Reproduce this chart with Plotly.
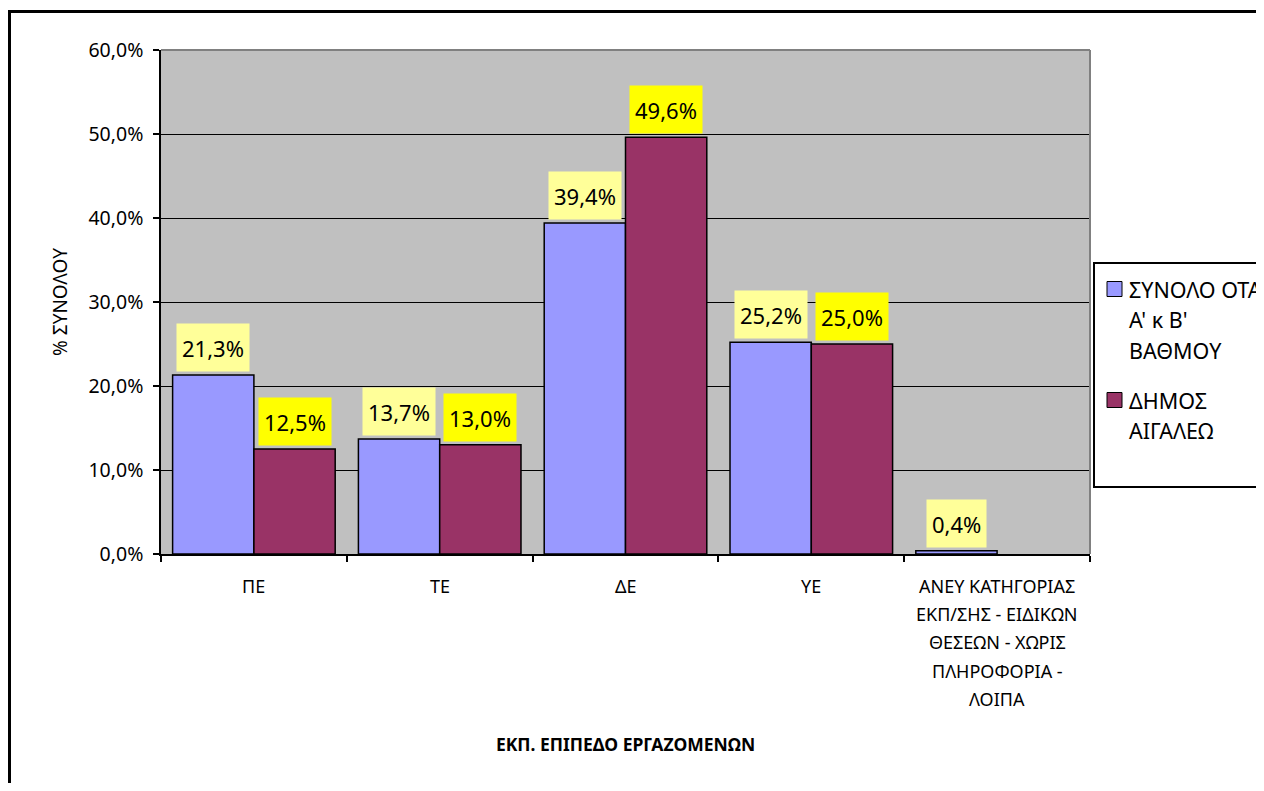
import plotly.graph_objects as go

# ---------------- data ----------------
categories = ["ΠΕ", "ΤΕ", "ΔΕ", "ΥΕ",
              "ΑΝΕΥ ΚΑΤΗΓΟΡΙΑΣ ΕΚΠ/ΣΗΣ - ΕΙΔΙΚΩΝ ΘΕΣΕΩΝ - ΧΩΡΙΣ ΠΛΗΡΟΦΟΡΙΑ - ΛΟΙΠΑ"]
tick_label_lines = [["ΠΕ"], ["ΤΕ"], ["ΔΕ"], ["ΥΕ"],
                    ["ΑΝΕΥ ΚΑΤΗΓΟΡΙΑΣ", "ΕΚΠ/ΣΗΣ - ΕΙΔΙΚΩΝ", "ΘΕΣΕΩΝ - ΧΩΡΙΣ",
                     "ΠΛΗΡΟΦΟΡΙΑ -", "ΛΟΙΠΑ"]]
series_names = ["ΣΥΝΟΛΟ ΟΤΑ Α' κ Β' ΒΑΘΜΟΥ", "ΔΗΜΟΣ ΑΙΓΑΛΕΩ"]
legend_lines = [["ΣΥΝΟΛΟ ΟΤΑ", "Α' κ Β'", "ΒΑΘΜΟΥ"], ["ΔΗΜΟΣ", "ΑΙΓΑΛΕΩ"]]
total_ota = [21.3, 13.7, 39.4, 25.2, 0.4]
dimos_aigaleo = [12.5, 13.0, 49.6, 25.0, None]
y_ticks = [0, 10, 20, 30, 40, 50, 60]
y_tick_text = [f"{v:.1f}".replace(".", ",") + "%" for v in y_ticks]
x_title = "ΕΚΠ. ΕΠΙΠΕΔΟ ΕΡΓΑΖΟΜΕΝΩΝ"
y_title = "% ΣΥΝΟΛΟΥ"

series_values = [total_ota, dimos_aigaleo]
bar_colors = ["#9999FF", "#993366"]
label_bg = ["#FFFF99", "#FFFF00"]

# ---------------- layout geometry ----------------
OFF = 8  # page body margin
W, H = 1264 - OFF, 791 - 2 * OFF
L, R, T, B = 161 - OFF, 1090 - OFF, 50 - OFF, 554 - OFF
PW, PH = R - L, B - T
BARGAP = 0.125


def px_x(px):
    return (px - OFF - L) / PW


def px_y(py):
    return (B - (py - OFF)) / PH


FONT = "Noto Sans"

fig = go.Figure()
for name, vals, col in zip(series_names, series_values, bar_colors):
    fig.add_trace(go.Bar(
        name=name, x=categories, y=vals,
        marker=dict(color=col, line=dict(color="black", width=1.5)),
        showlegend=False,
    ))

annotations = []
# data labels with background boxes
bar_px = PW / len(categories) * (1 - BARGAP) / 2
for si, vals in enumerate(series_values):
    shift = (si - 0.5) * bar_px
    for c, v in zip(categories, vals):
        if v is None:
            continue
        annotations.append(dict(
            x=c, y=v, xref="x", yref="y", xshift=shift, yshift=3,
            yanchor="bottom", xanchor="center", showarrow=False,
            text=f"{v:.1f}".replace(".", ",") + "%",
            font=dict(family=FONT, size=22, color="black"),
            bgcolor=label_bg[si], borderpad=5, height=37,
        ))

# category labels (one line each, Excel-like line spacing)
for c, lines in zip(categories, tick_label_lines):
    for li, txt in enumerate(lines):
        annotations.append(dict(
            x=c, y=px_y(586 + li * 28.2), xref="x", yref="paper",
            xanchor="center", yanchor="middle", showarrow=False, text=txt,
            font=dict(family=FONT, size=18, color="black"),
        ))

# x-axis title
annotations.append(dict(
    x=0.5, y=px_y(744), xref="paper", yref="paper", xanchor="center", yanchor="middle",
    showarrow=False, text=f"<b>{x_title}</b>",
    font=dict(family=FONT, size=17.5, color="black"),
))

# manual legend
shapes = []
leg_x0, leg_y0, leg_y1 = 1094, 263, 487
shapes.append(dict(type="rect", xref="paper", yref="paper",
                   x0=px_x(leg_x0), x1=px_x(1264 + 40), y0=px_y(leg_y1), y1=px_y(leg_y0),
                   line=dict(color="black", width=2), fillcolor="white", layer="above"))
item_centers = [289, 400]
line_step = 30.5
for si, lines in enumerate(legend_lines):
    cy = item_centers[si]
    shapes.append(dict(type="rect", xref="paper", yref="paper",
                       x0=px_x(1107), x1=px_x(1122), y0=px_y(cy + 7.5), y1=px_y(cy - 7.5),
                       line=dict(color="black", width=1), fillcolor=bar_colors[si], layer="above"))
    for li, txt in enumerate(lines):
        annotations.append(dict(
            x=px_x(1127), y=px_y(cy + li * line_step), xref="paper", yref="paper",
            xanchor="left", yanchor="middle", showarrow=False, text=txt,
            font=dict(family=FONT, size=21.5, color="black"),
        ))

# gray plot-area border top and right
shapes.append(dict(type="line", xref="paper", yref="paper", x0=0, x1=1, y0=1, y1=1,
                   line=dict(color="#808080", width=2), layer="above"))
shapes.append(dict(type="line", xref="paper", yref="paper", x0=1, x1=1, y0=0, y1=1,
                   line=dict(color="#808080", width=2), layer="above"))
# outer chart frame
shapes.append(dict(type="rect", xref="paper", yref="paper",
                   x0=px_x(9.5), x1=px_x(1264 + 50), y0=px_y(791 + 50), y1=px_y(11.5),
                   line=dict(color="black", width=3), fillcolor="rgba(0,0,0,0)", layer="above"))

fig.update_layout(
    width=W, height=H,
    margin=dict(l=L, r=W - R, t=T, b=H - B, autoexpand=False),
    paper_bgcolor="white", plot_bgcolor="#C0C0C0",
    barmode="group", bargap=BARGAP, bargroupgap=0,
    separators=",.",
    font=dict(family=FONT, color="black"),
    annotations=annotations, shapes=shapes,
    showlegend=False,
)
fig.update_xaxes(
    showticklabels=False,
    showline=True, linecolor="black", linewidth=1.5,
    ticks="outside", tickson="boundaries", ticklen=6, tickcolor="black", tickwidth=1.5,
    showgrid=False,
)
fig.update_yaxes(
    range=[0, 60], tickvals=y_ticks, ticktext=y_tick_text,
    tickfont=dict(family=FONT, size=19.5),
    showline=True, linecolor="black", linewidth=1.5,
    ticks="outside", ticklen=6, tickcolor="black", tickwidth=1.5,
    ticklabelstandoff=6,
    showgrid=True, gridcolor="black", gridwidth=1,
    zeroline=False,
    title=dict(text=y_title, font=dict(family=FONT, size=19), standoff=16),
)

fig.write_html("out.html")
